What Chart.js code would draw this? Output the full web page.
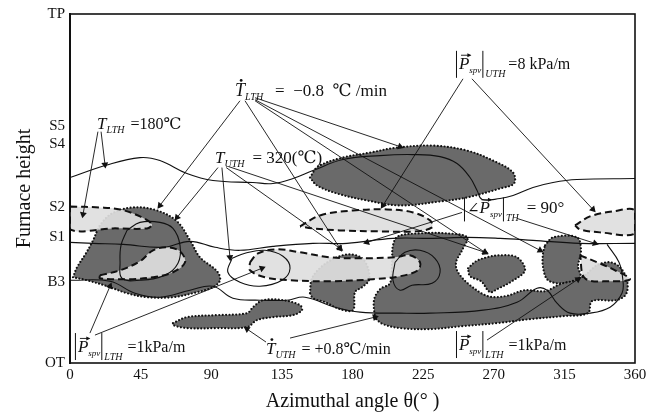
<!DOCTYPE html>
<html>
<head>
<meta charset="utf-8">
<script src="https://cdn.jsdelivr.net/npm/chart.js@4.4.1/dist/chart.umd.min.js"></script>
<style>
  html, body { margin: 0; padding: 0; background: #fff; }
  #wrap { width: 663px; height: 418px; }
</style>
</head>
<body>
<div id="wrap"><canvas id="furnaceChart"></canvas></div>
<script>
// y axis: named furnace levels (OT = 0 ... TP = 350, arbitrary height units)
const levelNames = ['OT', 'B3', 'S1', 'S2', 'S4', 'S5', 'TP'];
const levelHeights = [0, 81, 126, 156, 220, 238, 350];
const angleTicks = [0, 45, 90, 135, 180, 225, 270, 315, 360];

// dark regions (|P_spv| contours), [angle, height]
const darkUpper = [[152.9,186],[158.0,197],[173.9,206],[191.2,211],[208.4,216],[231.3,218],[253.0,213],[269.5,203],[282.3,191],[282.9,180],[274.0,175],[253.0,166],[235.8,162],[210.3,158],[189.2,163],[170.1,170],[157.4,178]];
const darkLeft = [[1.9,86],[4.5,96],[10.2,110],[14.7,123],[19.1,138],[26.8,150],[40.1,156],[55.4,153],[68.2,142],[76.5,123],[82.8,106],[93.7,92],[95.6,83],[91.1,76],[80.9,71],[65.6,66],[49.1,66],[36.3,70],[23.6,77],[10.8,83]];
const darkSmall = [[152.9,70],[154.2,85],[160.6,97],[170.1,106],[178.4,109],[186.1,105],[189.9,95],[190.5,83],[186.1,76],[181.6,71],[180.3,53],[172.0,54],[162.5,61],[154.8,65]];
const darkCentral = [[194.3,45],[193.7,63],[197.5,74],[203.9,80],[205.2,101],[205.8,118],[209.0,127],[223.0,130],[240.2,130],[253.0,126],[249.8,113],[246.0,101],[247.2,91],[254.9,78],[266.3,67],[277.2,67],[289.9,73],[302.7,72],[312.2,79],[321.8,83],[328.1,88],[335.8,98],[344.1,101],[350.4,96],[354.9,83],[354.3,69],[347.9,63],[332.6,62],[330.0,50],[314.1,47],[293.1,44],[272.1,40],[250.4,37],[229.4,34],[210.3,35],[199.4,39]];
const darkFan = [[253.6,95],[258.7,102],[265.7,106],[274.0,108],[284.8,106],[289.9,93],[281.6,82],[272.1,74],[267.6,71],[261.9,82],[254.9,87]];
const darkRight = [[302.7,118],[307.8,126],[323.0,126],[325.6,113],[323.7,97],[325.0,86],[314.1,80],[304.6,83],[301.4,96],[301.4,110]];
const darkLower = [[65.6,40],[74.5,46],[93.7,48],[112.8,50],[116.6,56],[123.0,63],[135.7,63],[146.6,58],[147.8,53],[142.1,48],[129.3,46],[119.2,43],[112.8,36],[93.7,35],[74.5,35],[65.6,38]];

// light regions (angle of P_spv = 90 deg)
const lightUpper = [[146.6,137],[159.3,148],[180.3,153],[202.0,154],[218.6,151],[229.4,143],[230.7,136],[219.8,132],[197.5,132],[172.0,133],[154.2,135]];
const lightRight = [[321.8,138],[331.3,147],[346.0,152],[360,153],[360,130],[337.7,131],[325.0,134]];
const lightLeft = [[0,157],[19.1,156],[31.9,154],[44.6,147],[52.2,139],[49.1,135],[27.4,135],[0,134]];
const lightInner = [[19.1,88],[31.9,93],[44.6,102],[52.9,113],[61.8,116],[70.1,112],[73.3,101],[65.6,91],[52.9,86],[36.3,84],[19.1,85]];
const lightMid = [[114.7,101],[119.8,110],[131.9,114],[146.6,111],[165.7,106],[184.8,105],[207.1,106],[216.6,108],[223.0,101],[221.7,93],[210.3,87],[193.1,84],[165.7,82],[140.2,83],[124.2,86],[114.7,93]];
const lightLow = [[325.0,108],[335.8,101],[347.3,93],[356.8,84],[344.1,82],[328.1,85]];

// temperature contours (solid)
const contourTop = [[0,186],[22.3,198],[44.6,206],[57.3,203],[74.5,190],[91.1,183],[116.6,181],[129.3,180],[142.1,185],[154.8,193],[173.9,204],[197.5,208],[218.6,209],[235.8,207],[246.6,200],[254.9,186],[259.4,173],[262.6,164],[274.0,165],[282.3,168],[295.0,176],[307.8,181],[323.0,184],[360,185]];
const contourMid = [[0,121],[14.7,120],[33.8,119],[59.3,116],[76.5,122],[92.4,116],[108.3,113],[129.3,117],[154.8,120],[176.5,120],[205.8,125],[231.3,125],[253.0,126],[274.0,125],[295.0,123],[325.0,120],[360,120]];
const contourLow = [[0,83],[25.5,82],[41.4,70],[57.3,66],[76.5,73],[91.1,77],[103.8,65],[121.0,63],[138.2,63],[149.7,66],[168.8,56],[184.8,51],[210.3,50],[229.4,50],[263.2,53],[284.8,61],[297.6,75],[304.0,73],[310.3,60],[318.6,50],[331.3,50],[344.1,56],[351.7,70],[352.3,83],[349.8,101],[342.2,119]];
const loopLeft = [[36.3,133],[44.6,141],[57.3,141],[65.6,135],[70.1,118],[68.8,100],[60.5,88],[44.6,83],[33.1,85],[31.9,101],[32.5,118]];
const loopMid = [[103.2,105],[111.5,110],[124.2,113],[135.7,107],[140.2,95],[135.1,83],[121.0,77],[108.3,81],[100.6,91]];
const loopCentral = [[207.1,101],[213.4,111],[223.0,113],[232.5,105],[235.8,91],[230.7,80],[217.9,78],[210.3,73],[205.8,83]];

// leader arrows: [fromAngle, fromHeight, toAngle, toHeight]
const arrowLinks = [
  [19.8,232,22.3,199],[17.8,232,8.3,149],
  [108.3,263,57.3,158],[111.5,263,172.0,115],[117.9,266,210.3,217],[117.9,263,264.4,111],[117.9,264,299.5,113],
  [94.3,196,68.2,146],[96.8,196,101.9,106],[99.5,196,172.0,115],[101.0,197,264.4,111],
  [250.4,285,199.4,158],[256.1,285,333.2,154],
  [249.8,151,189.2,121],[284.8,145,334.5,120],
  [12.7,30,25.5,77],[15.9,28,122.3,95],
  [124.9,21,112.8,34],[140.2,25,194.3,46],
  [265.7,23,323.7,84]
];

const SERIF = '"Liberation Serif", "DejaVu Serif", serif';
const INK = '#111';

// annotation texts, anchored at [angle, height] (baseline, left)
const vecP = {t: 'P', it: 1, size: 17, vec: 1};
const labelDefs = [
  {at: [17.2, 235], parts: [{t: 'T', it: 1, size: 17}, {t: 'LTH', it: 1, size: 10, dy: 4}, {gap: 6}, {t: '=180℃', size: 16}]},
  {at: [105.1, 268], parts: [{t: 'T', it: 1, size: 18, dot: 1}, {t: 'LTH', it: 1, size: 10, dy: 4}, {gap: 12}, {t: '=  −0.8  ℃ /min', size: 17}]},
  {at: [92.4, 201], parts: [{t: 'T', it: 1, size: 17}, {t: 'UTH', it: 1, size: 10, dy: 4}, {gap: 8}, {t: '= 320(℃)', size: 17}]},
  {at: [245.3, 295], parts: [{bar: [-18, 9]}, vecP, {t: 'spv', it: 1, size: 9, dy: 4}, {bar: [-18, 9]}, {t: 'UTH', it: 1, size: 10, dy: 8}, {gap: 3}, {t: '=8 kPa/m', size: 16}]},
  {at: [250.4, 150], parts: [{bar: [-16, 8]}, {t: '∠', size: 15}, vecP, {t: 'spv', it: 1, size: 9, dy: 4}, {bar: [-16, 8]}, {t: 'TH', it: 1, size: 10, dy: 8}, {gap: 8}, {t: '= 90°', size: 17}]},
  {at: [2.5, 11], parts: [{bar: [-19, 8]}, vecP, {t: 'spv', it: 1, size: 9, dy: 4}, {bar: [-19, 8]}, {t: 'LTH', it: 1, size: 10, dy: 8}, {gap: 5}, {t: '=1kPa/m', size: 16}]},
  {at: [124.9, 9], parts: [{t: 'T', it: 1, size: 17, dot: 1}, {t: 'UTH', it: 1, size: 10, dy: 4}, {gap: 6}, {t: '= +0.8℃/min', size: 16}]},
  {at: [245.3, 13], parts: [{bar: [-19, 8]}, vecP, {t: 'spv', it: 1, size: 9, dy: 4}, {bar: [-19, 8]}, {t: 'LTH', it: 1, size: 10, dy: 8}, {gap: 5}, {t: '=1kPa/m', size: 16}]}
];

function toXY(pairs) { return pairs.map(p => ({x: p[0], y: p[1]})); }
function ring(pairs) { return toXY(pairs.concat([pairs[0]])); }

function arrowRotation(c) {
  const d = c.dataset.data, s = c.chart.scales;
  const dx = s.x.getPixelForValue(d[1].x) - s.x.getPixelForValue(d[0].x);
  const dy = s.y.getPixelForValue(d[1].y) - s.y.getPixelForValue(d[0].y);
  return Math.atan2(dx, -dy) * 180 / Math.PI;
}

const datasets = [];
[darkUpper, darkLeft, darkSmall, darkCentral, darkFan, darkRight, darkLower].forEach(r => datasets.push({
  data: ring(r), fill: 'shape', backgroundColor: '#6a6a6a',
  borderColor: INK, borderWidth: 2.2, borderDash: [0, 3.4], borderCapStyle: 'round',
  tension: 0.35, pointRadius: 0, order: 3
}));
[lightUpper, lightRight, lightLeft, lightInner, lightMid, lightLow].forEach(r => datasets.push({
  data: ring(r), fill: 'shape', backgroundColor: 'rgba(222,222,222,0.92)',
  borderColor: INK, borderWidth: 2, borderDash: [7, 4],
  tension: 0.35, pointRadius: 0, order: 2
}));
[contourTop, contourMid, contourLow].forEach(r => datasets.push({
  data: toXY(r), fill: false, borderColor: INK, borderWidth: 1.1, tension: 0.4, pointRadius: 0, order: 1
}));
[loopLeft, loopMid, loopCentral].forEach(r => datasets.push({
  data: ring(r), fill: false, borderColor: INK, borderWidth: 1.1, tension: 0.4, pointRadius: 0, order: 1
}));
arrowLinks.forEach(a => datasets.push({
  data: [{x: a[0], y: a[1]}, {x: a[2], y: a[3]}], fill: false,
  borderColor: INK, borderWidth: 0.9, tension: 0,
  pointRadius: [0, 4], pointStyle: 'triangle', pointBackgroundColor: INK, pointBorderWidth: 0,
  pointRotation: arrowRotation, order: 0
}));

function richText(ctx, x, y, parts) {
  let cx = x;
  for (const p of parts) {
    if (p.gap) { cx += p.gap; continue; }
    if (p.bar) {
      ctx.lineWidth = 1;
      ctx.beginPath();
      ctx.moveTo(cx + 1.5, y + p.bar[0]);
      ctx.lineTo(cx + 1.5, y + p.bar[1]);
      ctx.stroke();
      cx += 4;
      continue;
    }
    ctx.font = (p.it ? 'italic ' : '') + p.size + 'px ' + SERIF;
    ctx.fillText(p.t, cx, y + (p.dy || 0));
    const w = ctx.measureText(p.t).width;
    if (p.dot) {
      ctx.beginPath();
      ctx.arc(cx + w * 0.62, y - p.size * 0.85, 1.4, 0, Math.PI * 2);
      ctx.fill();
    }
    if (p.vec) {
      const ay = y - p.size * 0.8;
      ctx.lineWidth = 0.9;
      ctx.beginPath();
      ctx.moveTo(cx + 2, ay);
      ctx.lineTo(cx + w + 1, ay);
      ctx.stroke();
      ctx.beginPath();
      ctx.moveTo(cx + w + 2, ay);
      ctx.lineTo(cx + w - 2, ay - 2);
      ctx.lineTo(cx + w - 2, ay + 2);
      ctx.closePath();
      ctx.fill();
    }
    cx += w;
  }
}

const annotationPlugin = {
  id: 'annotations',
  afterDatasetsDraw(chart) {
    const {ctx, scales} = chart;
    ctx.save();
    ctx.fillStyle = INK;
    ctx.strokeStyle = INK;
    ctx.textBaseline = 'alphabetic';
    labelDefs.forEach(l => {
      richText(ctx, scales.x.getPixelForValue(l.at[0]), scales.y.getPixelForValue(l.at[1]), l.parts);
    });
    ctx.restore();
  }
};

const framePlugin = {
  id: 'frame',
  afterDraw(chart) {
    const {ctx, chartArea: a} = chart;
    ctx.save();
    ctx.strokeStyle = INK;
    ctx.lineWidth = 1.6;
    ctx.strokeRect(a.left, a.top, a.right - a.left, a.bottom - a.top);
    ctx.restore();
  }
};

new Chart(document.getElementById('furnaceChart'), {
  type: 'line',
  data: {datasets},
  options: {
    responsive: true,
    maintainAspectRatio: false,
    animation: false,
    devicePixelRatio: 1,
    events: [],
    layout: {padding: {top: 13, right: 28, left: 0, bottom: 0}},
    plugins: {legend: {display: false}, tooltip: {enabled: false}},
    scales: {
      x: {
        type: 'linear', min: 0, max: 360,
        afterBuildTicks: axis => { axis.ticks = angleTicks.map(v => ({value: v})); },
        afterFit: axis => { axis.height = 55; },
        grid: {display: false, drawTicks: false},
        border: {display: false},
        ticks: {color: INK, padding: 3, maxRotation: 0, font: {family: SERIF, size: 15}},
        title: {display: true, text: 'Azimuthal angle θ(° )', color: INK, font: {family: SERIF, size: 20}, padding: {top: 0, bottom: 4}}
      },
      y: {
        type: 'linear', min: 0, max: 350,
        afterBuildTicks: axis => { axis.ticks = levelHeights.map(v => ({value: v})); },
        afterFit: axis => { axis.width = 70; },
        grid: {display: false, drawTicks: false},
        border: {display: true, color: INK, width: 2},
        ticks: {
          color: INK, padding: 5, font: {family: SERIF, size: 15},
          callback: v => levelNames[levelHeights.indexOf(v)]
        },
        title: {display: true, text: 'Furnace height', color: INK, font: {family: SERIF, size: 20}, padding: {top: 13, bottom: 0}}
      }
    }
  },
  plugins: [annotationPlugin, framePlugin]
});
</script>
</body>
</html>
